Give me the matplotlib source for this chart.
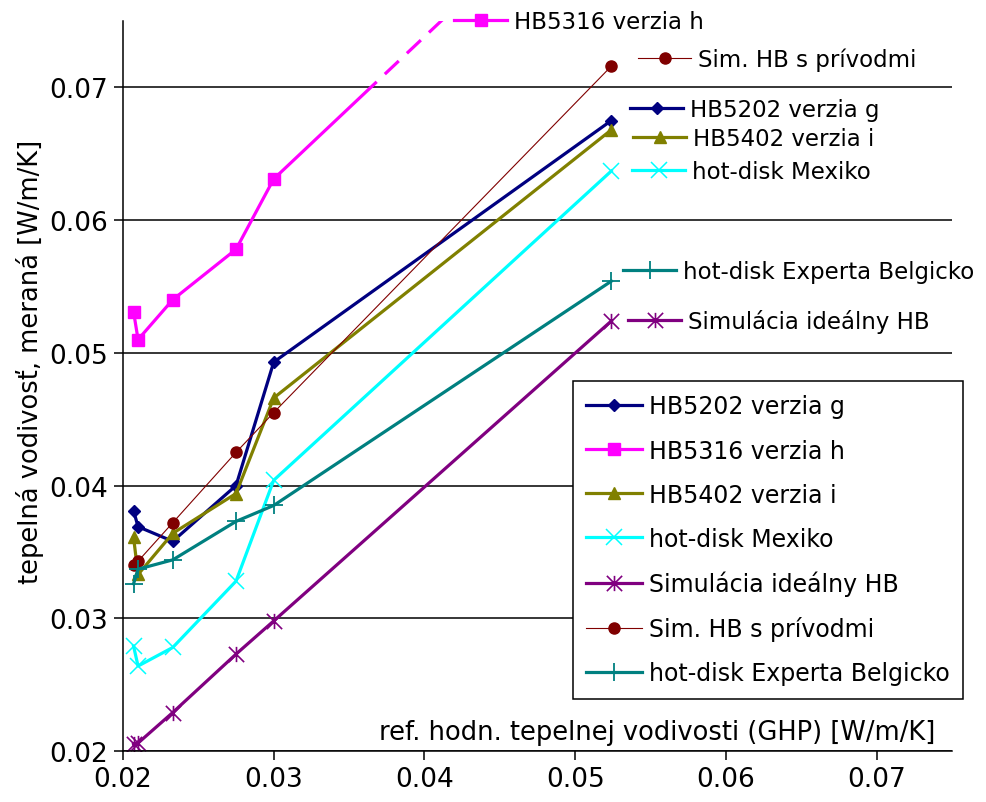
import matplotlib
matplotlib.use("Agg")
import matplotlib.pyplot as plt
from matplotlib.legend import Legend
from matplotlib.lines import Line2D
from matplotlib.patches import Rectangle
from matplotlib.path import Path
from matplotlib.transforms import offset_copy

# reference conductivity (GHP) [W/m/K]
ref_x = [0.0207, 0.0210, 0.0233, 0.0275, 0.0300, 0.0524]

# measured conductivity per device
hb5202 = [0.0381, 0.0369, 0.0358, 0.0400, 0.0493, 0.0675]
hb5316 = [0.0531, 0.0510, 0.0540, 0.0578, 0.0631, 0.0871]
hb5402 = [0.0361, 0.0333, 0.0364, 0.0394, 0.0466, 0.0668]
mexiko = [0.0279, 0.0264, 0.0278, 0.0328, 0.0404, 0.0637]
sim_ideal = [0.0205, 0.0206, 0.0229, 0.0273, 0.0298, 0.0524]
sim_privody = [0.0340, 0.0343, 0.0372, 0.0425, 0.0455, 0.0716]
belgicko = [0.0326, 0.0337, 0.0344, 0.0373, 0.0385, 0.0554]

names = ["HB5202 verzia g", "HB5316 verzia h", "HB5402 verzia i",
         "hot-disk Mexiko", "Simulácia ideálny HB", "Sim. HB s prívodmi",
         "hot-disk Experta Belgicko"]
values = [hb5202, hb5316, hb5402, mexiko, sim_ideal, sim_privody, belgicko]
ticks = [0.02, 0.03, 0.04, 0.05, 0.06, 0.07]

# excel style asterisk marker (x with a vertical bar)
asterisk = Path([(0, -1), (0, 1), (-1, -1), (1, 1), (-1, 1), (1, -1)],
                [Path.MOVETO, Path.LINETO] * 3)

styles = [
    dict(color="#000080", marker="D", ms=6, lw=2.3, mew=1),
    dict(color="#FF00FF", marker="s", ms=8.5, lw=2.3, mew=1),
    dict(color="#808000", marker="^", ms=9, lw=2.3, mew=1),
    dict(color="#00FFFF", marker="x", ms=11, lw=2.3, mew=1.1),
    dict(color="#800080", marker=asterisk, ms=11, lw=2.3, mew=1.2),
    dict(color="#800000", marker="o", ms=8, lw=0.8, mew=1),
    dict(color="#008080", marker="+", ms=13, lw=2.3, mew=1.3),
]

# pixel offsets of the series-name labels from each last point
label_offsets = [(19, 11), (-157, -161), (22, -9), (21, -1), (17, 0), (27, 7), (12, 10)]

fig = plt.figure(figsize=(9.86, 8.03), dpi=100)
ax = fig.add_axes([123 / 986, 51 / 803, 829 / 986, 730 / 803])
ax.set_xlim(0.02, 0.075)
ax.set_ylim(0.02, 0.075)

proxies = []
for name, vals, st in zip(names, values, styles):
    kw = dict(color=st["color"], lw=st["lw"], marker=st["marker"], ms=st["ms"],
              mfc=st["color"], mec=st["color"], mew=st["mew"])
    if name.startswith("HB5316"):
        # solid up to the 0.07 gridline, dashed above it
        solid, = ax.plot(ref_x, vals, **kw)
        solid.set_clip_path(Rectangle((0.02, 0.02), 0.055, 0.05, transform=ax.transData))
        dashed, = ax.plot(ref_x, vals, color=st["color"], lw=st["lw"],
                          linestyle=(0, (6, 3.5)))
        dashed.set_clip_path(Rectangle((0.02, 0.07), 0.055, 0.005, transform=ax.transData))
    else:
        ax.plot(ref_x, vals, **kw)
    proxies.append(Line2D([], [], **kw))

leg = ax.legend(proxies, names, loc="upper left",
                bbox_to_anchor=(573 / 986, 1 - 382 / 803), bbox_transform=fig.transFigure,
                borderaxespad=0, fancybox=False, edgecolor="black", framealpha=1,
                borderpad=0.57, labelspacing=0.85, handlelength=2.35, handletextpad=0.3,
                numpoints=1, fontsize=17)
leg.get_frame().set_linewidth(1.1)

# series names next to the last points
for name, vals, proxy, (dx, dy) in zip(names, values, proxies, label_offsets):
    tr = offset_copy(ax.transData, fig=fig, x=dx, y=dy, units="dots")
    lab = Legend(ax, [proxy], [name], loc="center left",
                 bbox_to_anchor=(ref_x[-1], vals[-1]), bbox_transform=tr,
                 frameon=False, borderpad=0, borderaxespad=0, handlelength=2.3,
                 handletextpad=0.3, numpoints=1, fontsize=16.5)
    ax.add_artist(lab)

ax.set_xticks(ticks)
ax.set_yticks(ticks)
ax.set_xticklabels([f"{t:.2f}" for t in ticks])
ax.set_yticklabels([f"{t:.2f}" for t in ticks])
ax.tick_params(axis="both", direction="out", length=6.5, width=1.1, labelsize=19, pad=4)
ax.yaxis.grid(True, color="black", lw=1.1)
ax.set_axisbelow(True)
for side in ["top", "right"]:
    ax.spines[side].set_visible(False)
for side in ["left", "bottom"]:
    ax.spines[side].set_linewidth(1.1)

ax.set_xlabel("ref. hodn. tepelnej vodivosti (GHP) [W/m/K]", fontsize=18.5,
              ha="right", va="center")
ax.xaxis.set_label_coords(0.9795, 0.026)
ax.set_ylabel("tepelná vodivosť, meraná [W/m/K]", fontsize=18.5, va="center")
ax.yaxis.set_label_coords(-0.112, 0.534)

fig.savefig("out.png", dpi=100)
